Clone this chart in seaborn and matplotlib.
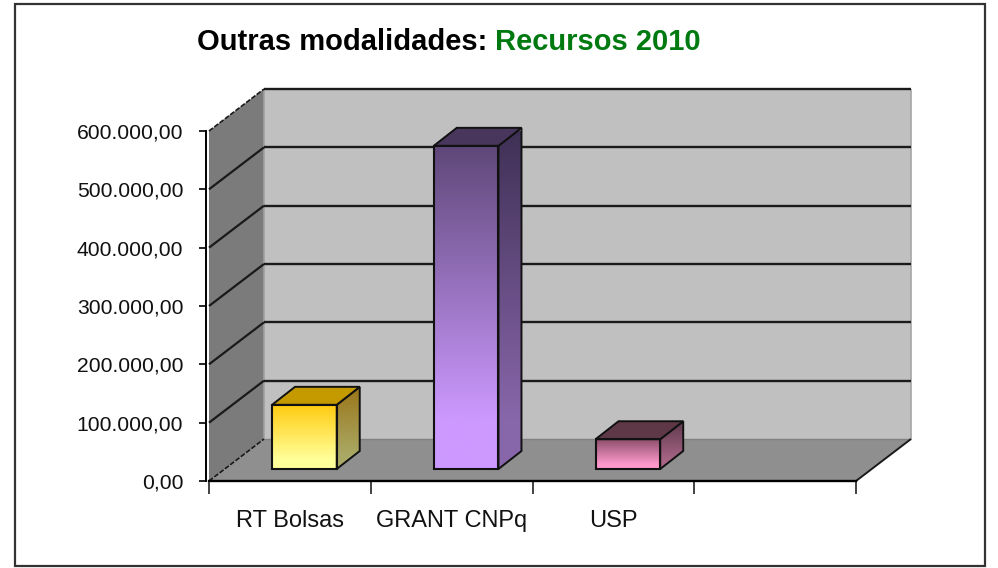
import numpy as np
import pandas as pd
import matplotlib
matplotlib.use("Agg")
import matplotlib.pyplot as plt
from matplotlib.patches import Polygon, Rectangle
from matplotlib.transforms import Affine2D, IdentityTransform
from matplotlib.ticker import FuncFormatter
from matplotlib.colors import to_rgb
import seaborn as sns

# ---- data ----
categories = ["RT Bolsas", "GRANT CNPq", "USP", ""]
bar_categories = ["RT Bolsas", "GRANT CNPq", "USP"]
values = [110000, 554000, 51000]
y_ticks = [0, 100000, 200000, 300000, 400000, 500000, 600000]
title_black = "Outras modalidades: "
title_green = "Recursos 2010"

# ---- styles ----
front_top = ["#FFCB10", "#5F4879", "#8E4F6C"]
front_bot = ["#FFFF99", "#CC99FF", "#FF99CC"]
side_top = ["#9A7518", "#3F3055", "#5E3A4C"]
side_bot = ["#AAAA66", "#8866AA", "#AA6688"]
top_face = ["#C49A00", "#48365C", "#5F3848"]
WALL_DEPTH = (55, 42)
BAR_SHIFT = (14.5, 12)
BAR_DEPTH = (23, 18)
GRADIENT_END = 0.85

sns.set_theme(style="white")
plt.rcParams["font.family"] = ["Liberation Sans", "DejaVu Sans"]

W, H = 998, 568
fig = plt.figure(figsize=(W / 100, H / 100), dpi=100, facecolor="white")
ax = fig.add_axes([209 / W, (H - 481) / H, 647 / W, 350 / H])
ax.patch.set_visible(False)

df = pd.DataFrame({"categoria": bar_categories, "valor": values})
sns.barplot(data=df, x="categoria", y="valor", order=categories, width=0.4,
            fill=True, color="none", edgecolor="#111111", linewidth=1.5,
            ax=ax, zorder=6)
ax.set_xlim(-0.5, len(categories) - 0.5)
ax.set_ylim(0, max(y_ticks))
ax.set_autoscale_on(False)
ax.set_xlabel("")
ax.set_ylabel("")
identity = IdentityTransform()


def px(x, y, d=(0, 0)):
    p = ax.transData.transform((x, y))
    return (p[0] + d[0], p[1] + d[1])


def add(d, e):
    return (d[0] + e[0], d[1] + e[1])


def poly(points, color, z, lw=0.0, ec="none"):
    ax.add_patch(Polygon(points, closed=True, facecolor=color, edgecolor=ec, linewidth=lw,
                         transform=identity, clip_on=False, zorder=z))


def seg(a, b, z=2, lw=1.7, color="#1A1A1A", ls="-"):
    ax.plot([a[0], b[0]], [a[1], b[1]], color=color, lw=lw, ls=ls,
            transform=identity, clip_on=False, zorder=z, solid_capstyle="butt")


def gradient(points, c_top, c_bot, z):
    xs = [p[0] for p in points]
    ys = [p[1] for p in points]
    t = np.clip(np.linspace(0, 1, 64) / GRADIENT_END, 0, 1)[:, None, None]
    arr = (1 - t) * np.array(to_rgb(c_top))[None, None, :] + t * np.array(to_rgb(c_bot))[None, None, :]
    im = ax.imshow(arr, extent=(min(xs), max(xs), min(ys), max(ys)), origin="upper", aspect="auto",
                   transform=identity, interpolation="bilinear", zorder=z)
    clip = Polygon(points, closed=True, transform=identity)
    im.set_clip_path(clip)


x0, x1 = ax.get_xlim()
y0, y1 = ax.get_ylim()

# walls and floor
poly([px(x0, y0, WALL_DEPTH), px(x1, y0, WALL_DEPTH), px(x1, y1, WALL_DEPTH), px(x0, y1, WALL_DEPTH)], "#C0C0C0", 1)
poly([px(x0, y0), px(x0, y0, WALL_DEPTH), px(x0, y1, WALL_DEPTH), px(x0, y1)], "#7B7B7B", 1)
poly([px(x0, y0), px(x1, y0), px(x1, y0, WALL_DEPTH), px(x0, y0, WALL_DEPTH)], "#8F8F8F", 1)
seg(px(x1, y0, WALL_DEPTH), px(x1, y1, WALL_DEPTH), lw=1.2, color="#A6A6A6")
seg(px(x0, y0, WALL_DEPTH), px(x0, y1, WALL_DEPTH), lw=1.2, color="#A0A0A0")
seg(px(x0, y0, WALL_DEPTH), px(x1, y0, WALL_DEPTH), lw=1.0, color="#808080")

# gridlines on side wall and back wall
for v in y_ticks:
    if v > y0:
        seg(px(x0, v, WALL_DEPTH), px(x1, v, WALL_DEPTH))
    dashed = v in (y0, y1)
    seg(px(x0, v), px(x0, v, WALL_DEPTH), lw=1.2 if dashed else 1.6,
        ls=(0, (3, 1)) if dashed else "-")
seg(px(x1, y0), px(x1, y0, WALL_DEPTH), lw=1.4)

# bars: the front faces come from seaborn, shifted into the depth of the chart
bars = [p for p in ax.patches if isinstance(p, Rectangle) and p.get_height() > 0 and p.get_zorder() == 6]
shift = ax.transData + Affine2D().translate(*BAR_SHIFT)
for i, bar in enumerate(bars):
    bar.set_transform(shift)
    bar.set_clip_on(False)
    bar.set_facecolor("none")
    xa, xb = bar.get_x(), bar.get_x() + bar.get_width()
    v = bar.get_height()
    d = BAR_SHIFT
    back = add(BAR_SHIFT, BAR_DEPTH)
    gradient([px(xa, 0, d), px(xb, 0, d), px(xb, v, d), px(xa, v, d)], front_top[i], front_bot[i], 4)
    side = [px(xb, 0, d), px(xb, 0, back), px(xb, v, back), px(xb, v, d)]
    gradient(side, side_top[i], side_bot[i], 4)
    poly(side, "none", 5, lw=1.4, ec="#111111")
    poly([px(xa, v, d), px(xb, v, d), px(xb, v, back), px(xa, v, back)], top_face[i], 5, lw=1.4, ec="#111111")

# axes
for name in ("top", "right"):
    ax.spines[name].set_visible(False)
ax.spines["left"].set_position(("outward", 2))
ax.spines["left"].set_color("black")
ax.spines["bottom"].set_color("black")
ax.spines["left"].set_linewidth(1.4)
ax.spines["bottom"].set_linewidth(1.7)
ax.spines["bottom"].set_zorder(7)


def pt_br(v, _pos=None):
    return f"{v:,.2f}".replace(",", "X").replace(".", ",").replace("X", ".")


ax.set_yticks(y_ticks)
ax.yaxis.set_major_formatter(FuncFormatter(pt_br))
ax.tick_params(axis="y", left=True, length=5, width=1.2, color="black", labelsize=15.2,
               labelcolor="#111111", pad=11.5)

ax.set_xticks(np.arange(len(categories) + 1) - 0.5)
ax.set_xticklabels([])
ax.set_xticks(np.arange(len(categories)), labels=categories, minor=True)
ax.tick_params(axis="x", which="major", bottom=True, length=9, width=1.2, color="#222222")
ax.tick_params(axis="x", which="minor", bottom=False, length=0, labelsize=17, pad=21,
               labelcolor="#111111")

# title
t1 = fig.text(197 / W, 1 - 50 / H, title_black, fontsize=21, fontweight="bold", color="black", ha="left", va="baseline")
t2 = fig.text(495 / W, 1 - 50 / H, title_green, fontsize=21, fontweight="bold", color="#007A10", ha="left", va="baseline")

# outer frame
fig.add_artist(Rectangle((15 / W, 1 - 566 / H), 970 / W, 562 / H, transform=fig.transFigure,
                         facecolor="none", edgecolor="#333333", linewidth=1.6))

fig.savefig("out.png", dpi=100, facecolor="white")
